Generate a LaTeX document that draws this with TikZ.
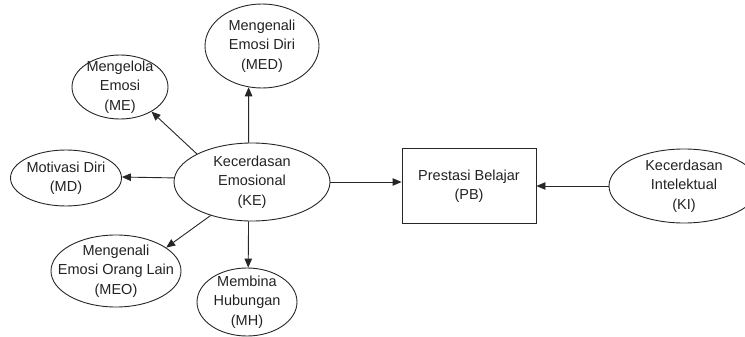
\documentclass[tikz,border=0pt]{standalone}
\usepackage{fontspec}
\setmainfont{Liberation Sans}
\usetikzlibrary{arrows.meta,shapes.geometric}
\definecolor{ln}{HTML}{262626}
\definecolor{tx}{HTML}{222222}
\begin{document}
\begin{tikzpicture}[x=1pt,y=-1pt,
  el/.style={ellipse,draw=ln,line width=0.9pt,inner xsep=-25pt,inner ysep=-10pt,
    align=center,font=\fontsize{14.5}{19.5}\selectfont,text=tx},
  bx/.style={rectangle,draw=ln,line width=0.9pt,inner sep=0pt,
    align=center,font=\fontsize{14.5}{19.5}\selectfont,text=tx},
  arr/.style={draw=ln,line width=0.9pt,-{Triangle[length=9pt,width=7.5pt]}}]
\useasboundingbox (0,0) rectangle (745,337);
\node[el,minimum width=114pt,minimum height=84pt] (MED) at (262,46) {Mengenali\\Emosi Diri\\(MED)};
\node[el,minimum width=96pt,minimum height=64pt] (ME) at (120,87) {Mengelola\\Emosi\\(ME)};
\node[el,minimum width=111pt,minimum height=56pt] (MD) at (66,178) {Motivasi Diri\\(MD)};
\node[el,minimum width=156pt,minimum height=78pt] (KE) at (252,182) {Kecerdasan\\Emosional\\(KE)};
\node[el,minimum width=130pt,minimum height=72pt] (MEO) at (116,271) {Mengenali\\Emosi Orang Lain\\(MEO)};
\node[el,minimum width=100pt,minimum height=68pt] (MH) at (247,302) {Membina\\Hubungan\\(MH)};
\node[bx,minimum width=134pt,minimum height=75pt] (PB) at (469,186) {Prestasi Belajar\\(PB)};
\node[el,minimum width=150pt,minimum height=74pt] (KI) at (684,186) {Kecerdasan\\Intelektual\\(KI)};
\draw[arr] (KE.95) -- (MED.252);
\draw[arr] (KE.153) -- (ME.322);
\draw[arr] (KE.177) -- (MD.1);
\draw[arr] (KE.219) -- (MEO.25);
\draw[arr] (KE.265) -- (MH.88);
\draw[arr] (KE.east) -- (KE.east -| PB.west);
\draw[arr] (KI.west) -- (KI.west -| PB.east);
\end{tikzpicture}
\end{document}
